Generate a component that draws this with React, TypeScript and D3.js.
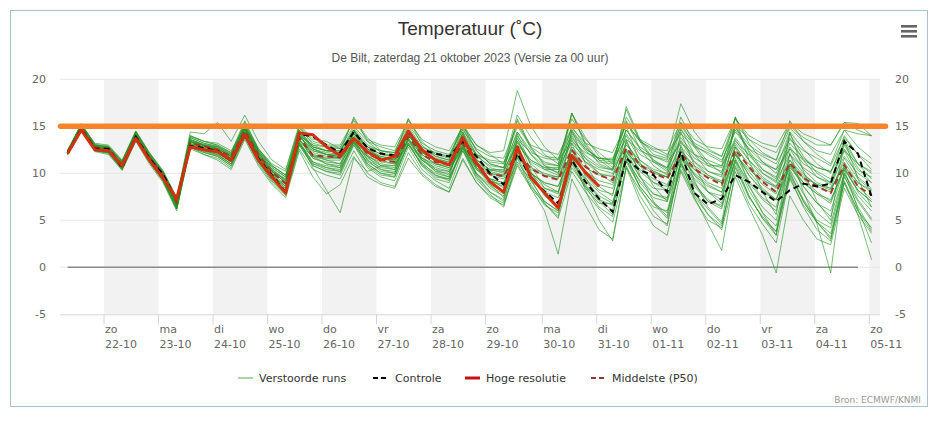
import React from "react";
import * as d3 from "d3";

// ---------- data ----------
const TITLE = "Temperatuur (˚C)";
const SUBTITLE = "De Bilt, zaterdag 21 oktober 2023 (Versie za 00 uur)";
const CREDITS = "Bron: ECMWF/KNMI";

// hours since 22-10 00:00 (local), ticks at local midnight (DST ends 29-10)
const TICK_HOURS = [0, 24, 48, 72, 96, 120, 144, 168, 193, 217, 241, 265, 289, 313, 337];
const TICK_DAYS = ["zo", "ma", "di", "wo", "do", "vr", "za", "zo", "ma", "di", "wo", "do", "vr", "za", "zo"];
const TICK_DATES = ["22-10", "23-10", "24-10", "25-10", "26-10", "27-10", "28-10", "29-10", "30-10", "31-10", "01-11", "02-11", "03-11", "04-11", "05-11"];
const Y_TICKS = [-5, 0, 5, 10, 15, 20];

// model steps: every 6 h, first at 21-10 06 UTC (= -16 h)
const FIRST_HOUR = -16;
const STEP_HOURS = 6;

const CONTROLE = [12.2, 14.7, 12.6, 12.6, 10.6, 13.9, 11.6, 9.9, 7.2, 12.9, 12.7, 12.4, 11.3, 14.0, 11.6, 9.8, 8.0, 14.2, 13.9, 13.0, 12.2, 14.4, 12.7, 12.1, 11.9, 14.4, 12.5, 12.1, 11.8, 13.4, 11.8, 10.0, 8.8, 12.1, 9.5, 8.1, 6.8, 11.4, 9.1, 7.3, 5.9, 11.6, 10.3, 9.8, 8.0, 12.3, 7.9, 6.7, 7.3, 9.8, 9.1, 8.0, 7.0, 8.2, 8.9, 8.6, 8.9, 13.4, 12.1, 7.5];
const HOGE_RESOLUTIE = [12.1, 14.6, 12.5, 12.4, 10.8, 13.7, 11.4, 9.5, 7.3, 12.8, 12.5, 12.3, 11.4, 14.1, 11.4, 9.6, 7.9, 14.3, 14.1, 12.8, 11.9, 13.7, 12.3, 11.4, 11.8, 14.5, 12.5, 11.4, 10.9, 13.8, 11.1, 9.1, 8.0, 12.8, 9.6, 7.9, 6.3, 11.9, 10.1, 8.6];
const MIDDELSTE = [12.2, 14.8, 12.8, 12.6, 10.9, 13.9, 11.7, 9.8, 6.9, 13.2, 12.9, 12.5, 11.8, 14.5, 12.0, 10.1, 8.9, 13.8, 11.9, 11.8, 11.7, 13.7, 12.1, 11.4, 11.2, 13.9, 12.0, 11.2, 10.9, 13.2, 10.9, 9.9, 9.7, 12.3, 10.5, 9.7, 9.3, 12.5, 10.7, 9.8, 9.3, 12.7, 10.9, 10.0, 9.4, 12.1, 10.5, 9.5, 8.8, 12.5, 10.7, 9.1, 8.0, 11.1, 9.5, 8.6, 7.9, 10.9, 8.6, 7.7];
const NUL_LIJN = [0, 0, 0, 0, 0, 0, 0, 0, 0, 0, 0, 0, 0, 0, 0, 0, 0, 0, 0, 0, 0, 0, 0, 0, 0, 0, 0, 0, 0, 0, 0, 0, 0, 0, 0, 0, 0, 0, 0, 0, 0, 0, 0, 0, 0, 0, 0, 0, 0, 0, 0, 0, 0, 0, 0, 0, 0, 0, 0];
const DREMPEL = 15;

const VERSTOORDE_RUNS: number[][] = [
  [12.3, 15.0, 12.9, 12.6, 11.0, 14.1, 11.8, 9.9, 7.0, 13.5, 13.0, 12.6, 11.8, 14.9, 12.2, 10.4, 9.2, 14.3, 12.6, 12.2, 12.0, 14.4, 12.8, 12.0, 11.8, 14.6, 12.4, 11.5, 11.2, 14.0, 11.5, 10.3, 10.2, 13.4, 11.4, 10.6, 10.1, 13.8, 11.9, 10.8, 10.3, 14.2, 12.0, 11.2, 10.6, 13.5, 11.6, 10.8, 10.2, 13.8, 11.9, 10.4, 9.6, 12.8, 11.0, 10.2, 9.4, 12.6, 10.3, 9.6],
  [12.0, 14.6, 12.4, 12.2, 10.5, 13.6, 11.2, 9.2, 6.2, 13.0, 12.3, 11.9, 11.0, 14.2, 11.2, 9.4, 8.0, 13.2, 11.0, 10.6, 10.2, 13.4, 11.0, 10.0, 9.6, 13.2, 10.8, 9.8, 9.2, 12.8, 9.9, 8.6, 7.8, 12.4, 9.6, 8.0, 6.5, 11.2, 8.8, 7.0, 5.6, 11.4, 8.6, 6.8, 5.2, 10.8, 7.9, 6.2, 4.6, 10.6, 7.4, 5.4, 3.8, 9.4, 6.6, 4.8, 3.6, 9.2, 6.0, 4.2],
  [12.5, 15.2, 13.2, 13.0, 11.4, 14.5, 12.2, 10.3, 7.4, 14.0, 13.4, 13.0, 12.2, 15.4, 12.6, 10.8, 9.8, 14.8, 13.2, 12.8, 12.8, 15.0, 13.4, 12.8, 12.4, 15.2, 13.2, 12.4, 12.0, 14.6, 12.6, 11.8, 11.6, 15.2, 13.0, 12.4, 12.0, 14.8, 13.2, 12.6, 12.2, 15.2, 13.6, 12.8, 12.0, 14.2, 12.8, 12.2, 11.4, 14.4, 12.6, 11.8, 11.0, 13.6, 12.4, 11.6, 10.8, 13.8, 12.0, 11.0],
  [12.1, 14.7, 12.6, 12.4, 10.7, 13.8, 11.4, 9.5, 6.6, 13.0, 12.6, 12.2, 11.3, 14.4, 11.6, 9.8, 8.4, 13.4, 10.6, 8.2, 5.8, 11.6, 10.2, 10.8, 10.8, 13.6, 11.4, 10.4, 10.2, 13.0, 10.4, 9.2, 8.8, 11.8, 10.0, 9.0, 8.6, 12.0, 10.2, 9.2, 8.8, 12.4, 10.4, 9.4, 8.8, 11.6, 10.0, 8.8, 8.0, 12.0, 10.2, 8.4, 7.2, 10.6, 9.0, 7.8, 7.2, 10.4, 8.2, 7.0],
  [12.4, 15.1, 13.0, 12.8, 11.2, 14.3, 12.0, 10.1, 7.2, 13.8, 13.2, 12.8, 12.0, 15.2, 12.4, 10.6, 9.6, 14.6, 12.8, 12.4, 12.4, 14.8, 13.0, 12.4, 12.0, 15.0, 12.8, 12.0, 11.6, 15.0, 13.0, 12.2, 12.4, 18.8, 15.0, 12.8, 11.4, 15.8, 13.6, 12.2, 11.0, 14.6, 12.6, 11.4, 10.4, 13.8, 12.0, 11.0, 10.6, 14.6, 12.6, 11.2, 10.0, 13.2, 11.6, 10.6, 10.2, 13.2, 11.0, 10.0],
  [12.0, 14.5, 12.3, 12.0, 10.3, 13.4, 11.0, 9.0, 6.0, 12.8, 12.0, 11.6, 10.6, 13.8, 11.0, 9.0, 7.6, 13.0, 10.8, 10.2, 9.8, 13.0, 10.6, 9.6, 9.2, 12.8, 10.4, 9.2, 8.4, 12.4, 9.4, 7.8, 6.4, 11.6, 8.4, 6.0, 1.4, 9.4, 6.6, 4.0, 3.0, 10.8, 7.6, 5.4, 4.6, 11.4, 8.0, 5.6, 4.4, 11.2, 7.6, 5.2, 3.4, 10.2, 7.0, 4.8, 3.0, 9.8, 6.4, 4.0],
  [12.3, 14.9, 12.8, 12.6, 10.9, 14.0, 11.7, 9.8, 6.9, 13.4, 12.9, 12.5, 11.6, 14.8, 12.0, 10.2, 9.0, 14.0, 12.4, 12.0, 11.8, 14.2, 12.6, 11.8, 11.6, 14.2, 12.2, 11.4, 11.0, 13.8, 11.4, 10.4, 10.0, 14.0, 12.0, 10.8, 10.4, 15.0, 12.8, 11.4, 11.2, 16.0, 13.6, 12.0, 11.6, 17.4, 14.4, 12.6, 11.8, 15.8, 13.6, 12.2, 11.4, 15.6, 13.4, 12.0, 11.0, 14.6, 12.8, 11.6],
  [12.2, 14.8, 12.7, 12.5, 10.8, 13.9, 11.6, 9.6, 6.8, 13.2, 12.7, 12.4, 11.5, 14.6, 11.8, 9.9, 8.6, 13.6, 11.6, 11.2, 11.0, 13.4, 11.6, 10.8, 10.6, 13.4, 11.4, 10.6, 10.2, 12.8, 10.4, 9.4, 9.0, 12.0, 10.0, 8.8, 8.0, 11.6, 9.4, 8.0, 7.0, 11.2, 8.6, 6.8, 5.8, 10.4, 7.6, 5.6, 4.0, 9.6, 6.4, 3.4, -0.6, 7.6, 5.0, 3.0, 2.4, 8.4, 5.6, 3.6],
  [12.2, 14.7, 12.6, 12.5, 10.9, 13.8, 11.5, 9.8, 7.0, 13.1, 12.8, 12.6, 11.8, 14.4, 11.9, 10.1, 9.4, 13.6, 12.0, 11.6, 11.6, 13.2, 12.2, 11.8, 11.4, 13.6, 12.0, 11.0, 10.6, 13.0, 10.8, 9.8, 9.4, 12.0, 10.6, 10.0, 9.6, 12.8, 11.2, 10.4, 10.0, 13.2, 11.0, 10.2, 9.6, 12.4, 10.8, 9.8, 9.0, 12.8, 11.0, 9.4, 8.4, 11.4, 9.8, 8.8, 8.2, 11.2, 9.0, 8.0],
  [12.1, 14.9, 12.5, 12.3, 10.6, 14.0, 11.4, 9.4, 6.4, 13.4, 12.6, 12.2, 11.2, 14.9, 11.6, 9.6, 8.2, 14.2, 11.8, 11.0, 10.6, 14.6, 11.8, 10.4, 10.0, 14.4, 11.6, 10.2, 9.6, 14.2, 10.6, 8.8, 7.4, 13.8, 10.2, 7.6, 6.4, 13.2, 9.6, 7.2, 6.0, 13.6, 9.8, 7.0, 5.4, 13.0, 9.2, 6.4, 4.8, 12.8, 8.8, 5.8, 3.4, 12.2, 8.0, 4.6, -0.6, 10.4, 6.2, 2.6],
  [12.4, 15.3, 13.0, 12.8, 11.3, 14.5, 12.2, 10.2, 7.4, 14.4, 14.2, 15.4, 13.4, 16.2, 13.4, 11.4, 10.4, 15.2, 13.6, 13.4, 12.6, 15.8, 13.8, 12.4, 12.2, 15.8, 13.4, 12.0, 11.8, 15.2, 13.0, 12.0, 11.0, 16.2, 13.8, 12.0, 11.0, 16.4, 13.8, 11.8, 10.6, 16.8, 13.4, 11.2, 10.2, 15.4, 12.8, 10.8, 10.8, 16.0, 13.2, 11.2, 10.4, 14.4, 12.6, 11.0, 10.0, 14.0, 12.0, 10.4],
  [12.0, 14.6, 12.5, 12.2, 10.6, 13.7, 11.3, 9.3, 6.4, 12.8, 12.2, 11.8, 10.8, 14.0, 11.2, 9.2, 7.8, 12.6, 10.4, 9.8, 9.4, 12.4, 10.0, 9.0, 8.6, 12.2, 10.0, 8.8, 8.0, 11.6, 9.0, 7.4, 6.6, 10.8, 8.4, 6.8, 5.2, 10.2, 8.0, 6.2, 4.8, 10.6, 8.2, 6.4, 6.0, 11.0, 8.6, 7.0, 6.6, 11.4, 9.0, 7.2, 6.0, 10.8, 8.6, 6.8, 5.4, 10.0, 7.6, 6.0],
  [12.3, 14.9, 12.8, 12.7, 11.1, 14.2, 11.9, 10.0, 7.1, 13.6, 13.1, 12.8, 11.9, 15.0, 12.3, 10.4, 9.4, 14.4, 12.8, 12.4, 12.2, 14.6, 12.6, 11.6, 11.2, 14.0, 12.2, 11.4, 11.0, 14.4, 12.0, 11.2, 11.0, 15.0, 12.8, 11.8, 11.6, 14.6, 12.6, 11.6, 11.6, 15.2, 13.4, 12.6, 12.4, 15.4, 13.6, 12.8, 12.6, 15.8, 14.0, 13.2, 12.8, 15.4, 14.2, 13.6, 13.0, 15.4, 14.6, 14.0],
  [12.1, 14.6, 12.6, 12.4, 10.6, 13.6, 11.4, 9.4, 6.6, 13.0, 12.4, 12.0, 11.0, 14.0, 11.4, 9.6, 8.0, 13.2, 11.2, 10.8, 10.6, 13.0, 11.2, 10.4, 10.2, 13.0, 11.0, 10.0, 9.6, 12.4, 10.0, 8.8, 8.0, 11.2, 9.2, 8.0, 7.4, 11.4, 9.2, 7.6, 6.8, 11.8, 9.0, 7.4, 7.0, 11.0, 8.8, 7.2, 6.4, 11.6, 8.6, 6.4, 5.0, 10.4, 7.8, 5.8, 4.6, 10.0, 7.2, 5.2],
  [12.2, 15.0, 12.7, 12.5, 10.8, 14.0, 11.6, 9.7, 6.9, 13.3, 12.8, 12.4, 11.6, 14.7, 12.0, 10.0, 8.8, 14.0, 12.2, 11.8, 11.6, 14.2, 12.2, 11.4, 11.0, 14.2, 12.0, 11.0, 10.8, 13.8, 11.2, 10.0, 9.6, 13.4, 11.0, 9.8, 9.4, 13.6, 11.2, 10.0, 9.6, 14.0, 11.4, 10.2, 9.6, 13.4, 11.2, 9.8, 9.2, 13.6, 11.4, 9.6, 8.6, 12.6, 10.4, 9.0, 8.4, 12.4, 9.6, 8.4],
  [12.4, 15.2, 13.1, 12.9, 11.3, 14.4, 12.1, 10.2, 7.3, 13.9, 13.4, 13.2, 12.4, 15.0, 12.6, 11.0, 10.2, 15.0, 13.4, 13.0, 13.0, 15.6, 13.6, 13.0, 12.8, 15.6, 13.6, 12.8, 12.4, 15.0, 12.4, 11.0, 10.6, 14.4, 12.0, 10.4, 9.8, 14.0, 11.6, 10.0, 9.0, 13.4, 10.8, 9.0, 8.2, 12.4, 9.8, 8.0, 7.2, 12.0, 9.2, 7.4, 6.4, 11.0, 8.6, 6.8, 6.0, 10.6, 8.0, 6.4],
  [12.0, 14.7, 12.4, 12.2, 10.5, 13.7, 11.3, 9.3, 6.3, 13.0, 12.4, 12.0, 11.0, 14.2, 11.4, 9.4, 8.0, 13.4, 11.2, 10.6, 10.4, 13.6, 11.4, 10.2, 10.0, 13.6, 11.2, 9.8, 9.4, 13.0, 10.0, 8.4, 7.6, 12.6, 9.4, 6.8, 5.4, 11.8, 8.2, 5.0, 2.8, 10.6, 7.0, 4.4, 3.4, 10.2, 7.2, 5.0, 4.2, 10.8, 7.6, 5.2, 3.8, 10.0, 7.2, 5.0, 4.2, 9.6, 7.0, 5.0],
  [12.2, 14.6, 12.6, 12.4, 10.8, 13.6, 11.6, 9.8, 7.0, 12.8, 12.6, 12.4, 11.6, 14.2, 11.8, 10.2, 9.0, 13.0, 11.8, 11.6, 11.8, 13.2, 11.8, 11.2, 11.0, 13.0, 11.6, 11.0, 10.6, 12.6, 10.8, 10.0, 9.8, 11.8, 10.4, 9.8, 9.6, 12.0, 10.6, 9.8, 9.8, 12.2, 10.8, 10.0, 9.6, 11.6, 10.4, 9.6, 9.0, 12.0, 10.4, 9.2, 8.6, 10.8, 9.6, 8.8, 8.4, 10.8, 9.0, 8.2],
  [12.3, 14.9, 12.9, 12.7, 11.0, 14.1, 11.8, 9.9, 7.0, 13.6, 13.0, 12.7, 11.8, 14.9, 12.1, 10.3, 9.2, 14.2, 12.6, 12.0, 11.6, 13.8, 12.2, 11.6, 11.4, 14.2, 12.2, 11.4, 11.0, 13.6, 11.2, 10.2, 9.8, 13.2, 11.2, 10.4, 10.4, 14.4, 12.6, 11.6, 11.4, 15.4, 13.4, 12.4, 11.8, 15.0, 13.2, 12.4, 11.8, 15.2, 13.6, 12.8, 12.2, 15.0, 13.8, 13.0, 13.0, 15.4, 15.3, 14.0],
  [12.0, 14.5, 12.4, 12.2, 10.4, 13.5, 11.2, 9.2, 6.2, 12.6, 12.0, 11.4, 10.4, 13.6, 10.8, 8.8, 7.4, 12.4, 9.6, 7.8, 8.8, 11.8, 9.6, 8.8, 8.4, 11.6, 9.8, 8.6, 8.0, 11.4, 9.0, 7.6, 6.8, 11.0, 8.6, 7.0, 6.0, 10.6, 8.6, 7.2, 6.6, 11.4, 9.2, 7.8, 7.4, 11.6, 9.4, 8.0, 7.6, 12.2, 9.8, 8.0, 7.2, 11.4, 9.4, 8.0, 7.0, 10.8, 8.6, 7.2],
  [12.4, 15.2, 13.0, 12.8, 11.2, 14.4, 12.0, 10.0, 7.2, 14.0, 13.4, 13.0, 12.2, 15.6, 12.6, 10.8, 9.8, 15.0, 13.0, 12.4, 12.2, 16.0, 13.4, 12.2, 11.8, 15.8, 13.0, 11.8, 11.4, 15.2, 12.4, 11.0, 10.6, 15.6, 12.6, 11.0, 10.8, 16.4, 13.2, 11.4, 10.4, 15.6, 12.6, 10.8, 9.8, 14.8, 12.0, 10.2, 9.6, 15.0, 12.2, 10.0, 9.0, 13.8, 11.4, 9.6, 8.8, 13.0, 10.6, 9.0],
  [12.1, 14.8, 12.6, 12.4, 10.7, 14.0, 11.5, 9.5, 6.6, 13.4, 12.6, 12.2, 11.4, 14.8, 11.8, 9.8, 8.6, 14.0, 12.0, 11.4, 11.0, 14.4, 12.0, 10.8, 10.4, 14.6, 11.8, 10.4, 9.8, 14.4, 11.0, 9.4, 8.4, 14.2, 10.8, 8.4, 7.8, 14.6, 11.0, 8.6, 7.6, 15.0, 11.2, 8.6, 7.0, 14.4, 10.8, 8.0, 6.8, 16.0, 11.4, 8.0, 5.6, 14.4, 10.2, 7.0, 5.0, 13.6, 9.4, 6.4],
  [12.2, 14.7, 12.7, 12.4, 10.8, 13.8, 11.5, 9.6, 6.7, 13.1, 12.6, 12.3, 11.4, 14.4, 11.7, 9.8, 8.6, 13.6, 11.8, 11.4, 11.4, 13.8, 11.8, 11.0, 10.8, 13.6, 11.6, 10.8, 10.4, 13.2, 10.6, 9.4, 9.0, 12.4, 10.0, 9.0, 8.6, 12.4, 10.0, 8.8, 8.4, 12.6, 10.2, 9.0, 8.6, 12.0, 9.8, 8.6, 8.0, 12.2, 9.8, 8.2, 7.2, 11.0, 9.0, 7.8, 6.8, 10.6, 8.2, 7.0],
  [12.3, 14.8, 12.8, 12.6, 11.0, 14.0, 11.8, 10.0, 7.2, 13.4, 13.0, 12.8, 12.0, 14.6, 12.4, 10.8, 9.8, 14.0, 13.0, 12.8, 12.6, 14.2, 12.8, 12.4, 12.2, 14.4, 12.8, 12.2, 11.8, 13.8, 12.0, 11.4, 11.2, 13.6, 12.2, 11.6, 11.4, 13.4, 12.2, 11.6, 11.4, 13.6, 12.4, 11.8, 11.2, 13.2, 12.0, 11.4, 10.8, 13.4, 12.0, 11.0, 10.4, 12.6, 11.4, 10.6, 10.2, 12.4, 11.0, 10.2],
  [12.1, 14.7, 12.5, 12.3, 10.6, 13.8, 11.4, 9.5, 6.5, 13.0, 12.5, 12.1, 11.2, 14.4, 11.6, 9.6, 8.4, 13.6, 11.6, 11.0, 10.8, 13.6, 11.4, 10.6, 10.4, 13.8, 11.4, 10.2, 10.0, 13.4, 10.6, 9.2, 8.6, 12.8, 10.0, 8.4, 8.0, 12.6, 9.8, 8.2, 7.8, 12.4, 9.6, 7.8, 7.2, 11.8, 9.0, 7.0, 6.2, 11.4, 8.2, 5.8, 4.4, 9.8, 7.0, 4.8, 3.2, 9.0, 5.6, 0.8],
  [12.3, 15.0, 12.8, 12.6, 11.0, 14.2, 11.8, 9.9, 7.0, 13.6, 13.0, 12.6, 11.8, 15.0, 12.2, 10.4, 9.2, 14.4, 12.6, 12.0, 11.8, 14.6, 12.6, 11.6, 11.4, 14.8, 12.4, 11.2, 11.0, 14.8, 12.0, 10.6, 10.2, 15.8, 12.8, 10.8, 10.0, 16.4, 13.0, 11.0, 10.4, 17.1, 13.6, 11.4, 10.6, 16.0, 13.0, 11.2, 10.0, 15.2, 12.4, 10.4, 9.4, 14.2, 11.8, 10.0, 9.0, 13.6, 11.0, 9.4],
  [12.0, 14.6, 12.4, 12.1, 10.4, 13.6, 11.2, 9.2, 6.2, 12.8, 12.2, 11.8, 10.8, 14.0, 11.2, 9.2, 7.8, 13.0, 10.8, 10.2, 10.0, 13.2, 10.8, 9.8, 9.6, 13.2, 10.8, 9.4, 9.0, 12.8, 9.8, 8.0, 7.2, 12.2, 9.2, 7.0, 6.0, 11.6, 8.6, 6.4, 5.4, 12.0, 8.4, 6.0, 4.4, 11.2, 7.4, 4.6, 1.8, 10.2, 6.8, 4.6, 2.6, 9.6, 6.4, 4.0, 2.8, 9.0, 6.0, 3.8],
  [12.2, 14.8, 12.8, 12.6, 10.9, 14.0, 11.7, 9.8, 6.9, 13.4, 12.9, 12.6, 11.7, 14.8, 12.0, 10.2, 9.0, 14.0, 12.4, 12.0, 12.0, 14.0, 12.4, 11.6, 11.6, 14.0, 12.4, 11.6, 11.2, 13.4, 11.4, 10.4, 10.4, 13.0, 11.4, 10.6, 10.6, 13.2, 11.6, 10.6, 10.4, 13.0, 11.4, 10.4, 10.0, 12.8, 11.2, 10.2, 9.8, 13.2, 11.4, 10.0, 9.2, 12.0, 10.6, 9.6, 9.0, 11.8, 10.0, 9.0],
  [12.1, 14.7, 12.6, 12.3, 10.7, 13.8, 11.4, 9.5, 6.6, 13.0, 12.5, 12.2, 11.2, 14.3, 11.5, 9.6, 8.2, 13.2, 11.0, 10.4, 10.2, 13.4, 11.0, 10.0, 9.8, 13.2, 11.0, 9.6, 9.4, 12.6, 9.6, 8.0, 7.0, 11.8, 8.8, 6.6, 5.8, 11.0, 8.4, 6.8, 6.8, 12.0, 9.6, 8.4, 8.2, 12.6, 10.4, 9.0, 8.4, 13.0, 10.6, 8.8, 7.8, 12.0, 10.0, 8.6, 8.0, 11.6, 9.4, 8.2],
  [12.4, 15.1, 13.0, 12.8, 11.2, 14.4, 12.0, 10.1, 7.2, 13.8, 13.2, 12.9, 12.1, 15.2, 12.4, 10.6, 9.6, 14.6, 12.8, 12.4, 12.4, 14.6, 12.8, 12.0, 11.8, 14.6, 12.6, 11.8, 11.4, 14.2, 11.8, 10.8, 10.6, 14.4, 12.4, 11.2, 10.8, 14.2, 12.4, 11.2, 11.0, 14.6, 12.8, 11.8, 11.4, 14.6, 13.0, 12.0, 11.2, 14.8, 13.0, 12.0, 11.4, 14.8, 13.4, 12.4, 12.0, 14.6, 14.2, 14.0],
];

const LEGEND = [
  { name: "Verstoorde runs", kind: "runs" },
  { name: "Controle", kind: "ctrl" },
  { name: "Hoge resolutie", kind: "hres" },
  { name: "Middelste (P50)", kind: "p50" },
];

// ---------- layout ----------
const W = 945;
const H = 421;
const PLOT_L = 60;
const PLOT_R = 880;
const PLOT_T = 79.3;
const PLOT_B = 314.3;

const COL_RUNS = "#229322";
const COL_HRES = "#d3300f";
const COL_P50 = "#a3382a";
const COL_ORANGE = "#f7842b";

export default function App() {
  const x = d3.scaleLinear().domain([0, 337]).range([104, 869.3]);
  const y = d3.scaleLinear().domain([-5, 20]).range([PLOT_B, PLOT_T]);
  const hourOf = (i: number) => FIRST_HOUR + STEP_HOURS * i;

  const line = d3
    .line<number>()
    .x((_, i) => x(hourOf(i)))
    .y((d) => y(d));

  const domStart = x.invert(PLOT_L);
  const domEnd = x.invert(PLOT_R);
  const bandEdges = [...TICK_HOURS, domEnd];

  const font = "'DejaVu Sans', Verdana, sans-serif";

  return (
    <svg
      width={W}
      height={H}
      style={{ position: "absolute", left: 0, top: 0, background: "#fff" }}
      fontFamily={font}
    >
      <rect x={10.5} y={10.5} width={917} height={396} fill="#fff" stroke="#a9c2d2" strokeWidth={1} />

      {/* title */}
      <text x={470} y={35} textAnchor="middle" fontFamily="'Liberation Sans', Arial, sans-serif" fontSize={19} fill="#333">
        {TITLE}
      </text>
      <text x={470} y={62} textAnchor="middle" fontFamily="'Liberation Sans', Arial, sans-serif" fontSize={12} fill="#555">
        {SUBTITLE}
      </text>

      {/* menu icon */}
      {[0, 1, 2].map((k) => (
        <rect key={k} x={901} y={25 + k * 5} width={16} height={2.6} fill="#666" />
      ))}

      {/* day bands */}
      {TICK_HOURS.map((h, k) =>
        k % 2 === 0 ? (
          <rect
            key={"b" + k}
            x={x(h)}
            y={PLOT_T}
            width={Math.min(x(bandEdges[k + 1]), PLOT_R) - x(h)}
            height={PLOT_B - PLOT_T}
            fill="#f2f2f2"
          />
        ) : null
      )}

      {/* grid */}
      {Y_TICKS.map((t) => (
        <g key={"g" + t}>
          {t !== -5 && t !== 0 && (
            <line x1={PLOT_L} x2={PLOT_R} y1={y(t)} y2={y(t)} stroke="#e6e6e6" strokeWidth={1} />
          )}
          <text x={46} y={y(t)} dy="0.35em" textAnchor="end" fontSize={11} fill="#666">
            {t}
          </text>
          <text x={895} y={y(t)} dy="0.35em" textAnchor="start" fontSize={11} fill="#666">
            {t}
          </text>
        </g>
      ))}
      <line x1={PLOT_L} x2={PLOT_R} y1={y(0)} y2={y(0)} stroke="#e6e6e6" strokeWidth={1} />
      <line x1={PLOT_L} x2={PLOT_R} y1={PLOT_B + 0.5} y2={PLOT_B + 0.5} stroke="#d6d6d6" strokeWidth={1} />

      {/* x ticks and labels */}
      {TICK_HOURS.map((h, k) => (
        <g key={"t" + k}>
          <line x1={x(h)} x2={x(h)} y1={PLOT_B} y2={PLOT_B + 10} stroke="#ccd6eb" strokeWidth={1} />
          <text x={x(h) + 1} y={333} fontSize={11} fill="#666">
            {TICK_DAYS[k]}
          </text>
          <text x={x(h) + 1} y={348} fontSize={11} fill="#666">
            {TICK_DATES[k]}
          </text>
        </g>
      ))}

      {/* zero line */}
      <path d={line(NUL_LIJN) || ""} fill="none" stroke="#8a8a8a" strokeWidth={1.5} />

      {/* ensemble members */}
      {VERSTOORDE_RUNS.map((m, k) => (
        <path key={"m" + k} d={line(m) || ""} fill="none" stroke={COL_RUNS} strokeOpacity={0.62} strokeWidth={1} />
      ))}

      <path d={line(MIDDELSTE) || ""} fill="none" stroke={COL_P50} strokeWidth={2} strokeDasharray="6,4" />
      <path d={line(CONTROLE) || ""} fill="none" stroke="#000" strokeWidth={2} strokeDasharray="6,4" />
      <path d={line(HOGE_RESOLUTIE) || ""} fill="none" stroke={COL_HRES} strokeWidth={3} strokeLinejoin="round" />

      {/* threshold */}
      <line
        x1={x(domStart) + 0.5}
        x2={x(domEnd) + 5.5}
        y1={y(DREMPEL)}
        y2={y(DREMPEL)}
        stroke={COL_ORANGE}
        strokeWidth={5.5}
        strokeLinecap="round"
      />

      {/* legend */}
      {(() => {
        const items = [
          { sx: 238, tx: 259 },
          { sx: 373, tx: 395 },
          { sx: 465, tx: 486 },
          { sx: 591, tx: 612 },
        ];
        const ly = 378;
        return LEGEND.map((it, k) => {
          const p = items[k];
          let stroke = "#a8d4a8";
          let dash: string | undefined;
          let sw = 2;
          if (it.kind === "ctrl") {
            stroke = "#000";
            dash = "5,3";
          } else if (it.kind === "hres") {
            stroke = "#cc1010";
            sw = 3;
          } else if (it.kind === "p50") {
            stroke = "#993333";
            dash = "5,3";
          }
          return (
            <g key={"l" + k}>
              <line x1={p.sx} x2={p.sx + 15} y1={ly} y2={ly} stroke={stroke} strokeWidth={sw} strokeDasharray={dash} />
              <text x={p.tx} y={ly} dy="0.35em" fontSize={11} fill="#333">
                {it.name}
              </text>
            </g>
          );
        });
      })()}

      <text x={921} y={403} textAnchor="end" fontSize={9} fill="#999">
        {CREDITS}
      </text>
    </svg>
  );
}
